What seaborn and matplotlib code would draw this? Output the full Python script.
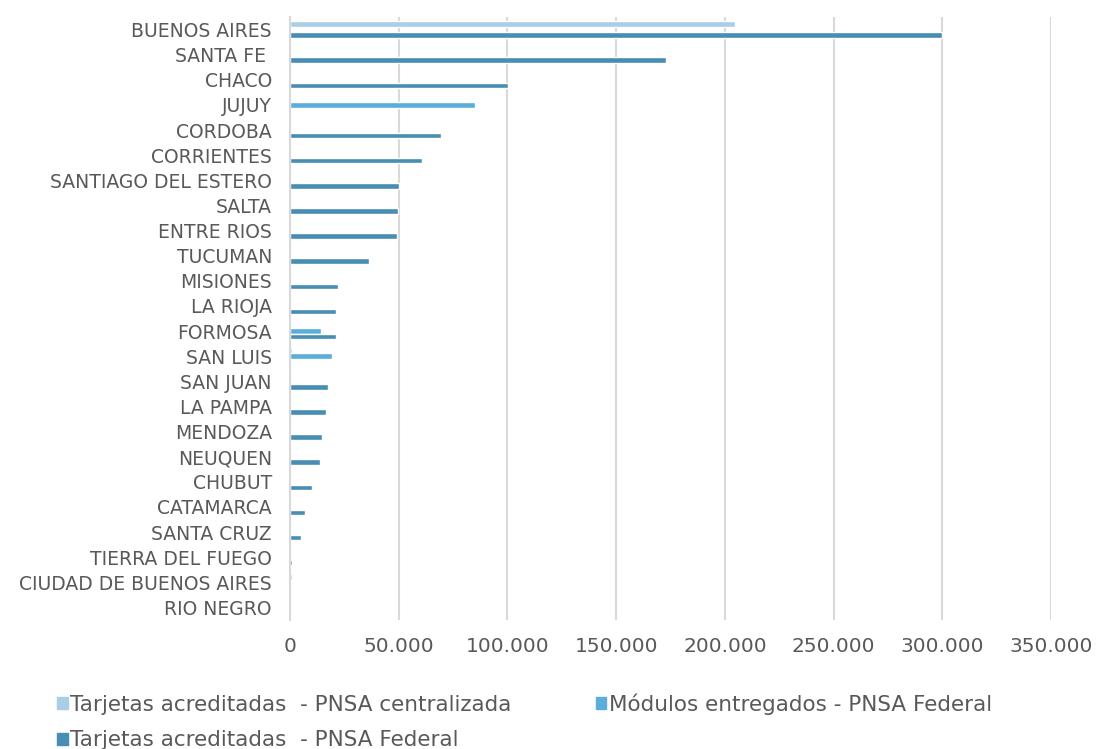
import pandas as pd
import seaborn as sns
import matplotlib.pyplot as plt
from matplotlib.ticker import FuncFormatter
from matplotlib.patches import Patch

# Data
provincias = ["BUENOS AIRES", "SANTA FE ", "CHACO", "JUJUY", "CORDOBA", "CORRIENTES",
              "SANTIAGO DEL ESTERO", "SALTA", "ENTRE RIOS", "TUCUMAN", "MISIONES",
              "LA RIOJA", "FORMOSA", "SAN LUIS", "SAN JUAN", "LA PAMPA", "MENDOZA",
              "NEUQUEN", "CHUBUT", "CATAMARCA", "SANTA CRUZ", "TIERRA DEL FUEGO",
              "CIUDAD DE BUENOS AIRES", "RIO NEGRO"]
tarjetas_centralizada = [204700, 0, 0, 0, 0, 0, 0, 0, 0, 0, 0, 0, 0, 800, 0, 0, 0, 0,
                         0, 0, 0, 0, 800, 0]
modulos_federal = [0, 0, 0, 85300, 0, 0, 0, 0, 0, 0, 0, 0, 14300, 19100, 0, 0, 0, 0,
                   0, 0, 0, 0, 0, 0]
tarjetas_federal = [300000, 173100, 100200, 0, 69300, 60500, 50000, 49500, 49000,
                    36500, 22000, 21100, 21000, 0, 17400, 16600, 14900, 13700, 10300,
                    6800, 5200, 1100, 0, 0]

series = ["Tarjetas acreditadas  - PNSA centralizada",
          "Módulos entregados - PNSA Federal",
          "Tarjetas acreditadas  - PNSA Federal"]
colores = ["#AACDE8", "#5AAED9", "#488DB4"]

df = pd.DataFrame({
    "provincia": provincias * 3,
    "valor": tarjetas_centralizada + modulos_federal + tarjetas_federal,
    "serie": [series[0]] * len(provincias) + [series[1]] * len(provincias)
             + [series[2]] * len(provincias),
})

sns.set_style("white")
plt.rcParams['font.family'] = ['DejaVu Sans']

fig = plt.figure(figsize=(11, 7.49), dpi=100)
ax = fig.add_axes([290 / 1100, 1 - 620 / 749, (1051 - 290) / 1100, (620 - 17) / 749])

sns.barplot(data=df, y="provincia", x="valor", hue="serie", order=provincias,
            hue_order=series, palette=colores, saturation=1, width=0.66,
            orient="h", legend=False, ax=ax)

ax.set_xlim(0, 350000)
ax.set_xticks(range(0, 350001, 50000))
ax.xaxis.set_major_formatter(FuncFormatter(lambda v, p: f"{int(v):,}".replace(",", ".")))
ax.grid(axis="x", color="#D9D9D9", linewidth=1.5)
ax.set_axisbelow(True)
for s in ["top", "right", "bottom"]:
    ax.spines[s].set_visible(False)
ax.spines["left"].set_color("#D9D9D9")
ax.spines["left"].set_linewidth(1.5)
ax.tick_params(axis="both", length=0, colors="#595959")
ax.tick_params(axis="y", labelsize=13.5, pad=13)
ax.tick_params(axis="x", labelsize=14.5, pad=12)
ax.set_xlabel("")
ax.set_ylabel("")

# legend in row order: column-fill so reorder handles
handles = [Patch(color=c, label=s) for c, s in zip(colores, series)]
order = [0, 2, 1]
fig.legend([handles[i] for i in order], [series[i] for i in order],
           loc="upper left", bbox_to_anchor=(38 / 1100, 1 - 674 / 749), ncol=2,
           frameon=False, fontsize=15.5, handlelength=0.5, handleheight=0.5,
           handletextpad=0.1, columnspacing=3.9, labelspacing=0.72,
           labelcolor="#595959")

fig.savefig("out.png", dpi=100)
